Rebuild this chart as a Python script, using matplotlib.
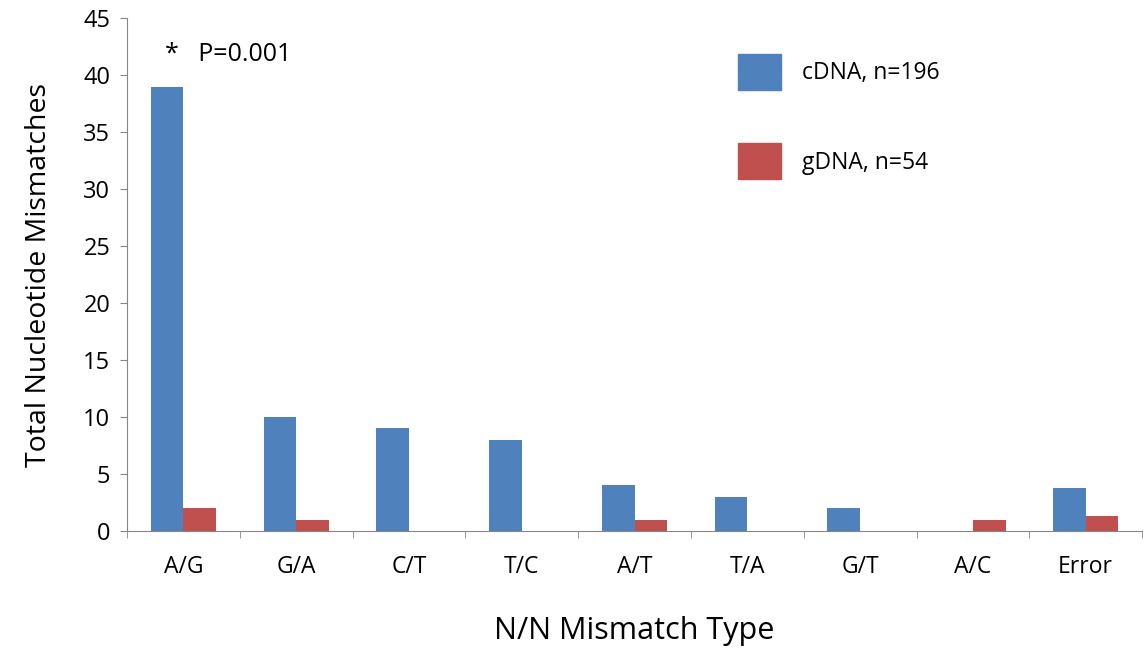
import numpy as np
import matplotlib.pyplot as plt
from matplotlib.patches import Patch

categories = ['A/G', 'G/A', 'C/T', 'T/C', 'A/T', 'T/A', 'G/T', 'A/C', 'Error']
cdna = [39, 10, 9, 8, 4, 3, 2, 0, 3.8]
gdna = [2, 1, 0, 0, 1, 0, 0, 1, 1.3]

plt.rcParams['font.family'] = ['Open Sans', 'DejaVu Sans']

fig = plt.figure(figsize=(11.45, 6.5), dpi=100)
ax = fig.add_axes([0.111, 0.183, 0.8865, 0.789])

x = np.arange(len(categories))
w = 0.29
ax.bar(x - w / 2, cdna, w, color='#4F81BD')
ax.bar(x + w / 2, gdna, w, color='#C0504D')

ax.set_xlim(-0.5, len(categories) - 0.5)
ax.set_ylim(0, 45)
ax.set_yticks(range(0, 46, 5))
ax.set_xticks(x)
ax.set_xticklabels(categories)
ax.set_xticks(np.arange(-0.5, len(categories), 1), minor=True)
ax.tick_params(axis='x', which='major', length=0, labelsize=16.5, pad=17)
ax.tick_params(axis='x', which='minor', length=5, color='#868686')
ax.tick_params(axis='y', labelsize=17, length=5, pad=7, color='#868686')

for s in ['top', 'right']:
    ax.spines[s].set_visible(False)
for s in ['left', 'bottom']:
    ax.spines[s].set_color('#868686')

ax.set_ylabel('Total Nucleotide Mismatches', fontsize=20.5, labelpad=22)
ax.set_xlabel('N/N Mismatch Type', fontsize=22, labelpad=27)

ax.text(0.037, 0.929, '*   P=0.001', transform=ax.transAxes, fontsize=18,
        va='center', ha='left')

handles = [Patch(color='#4F81BD'), Patch(color='#C0504D')]
ax.legend(handles, ['cDNA, n=196', 'gDNA, n=54'], frameon=False,
          loc='upper left', bbox_to_anchor=(0.591, 0.953), fontsize=16.5,
          borderpad=0, handlelength=1.87, handleheight=2.03,
          labelspacing=2.35, handletextpad=0.9)

plt.savefig('out.png')
